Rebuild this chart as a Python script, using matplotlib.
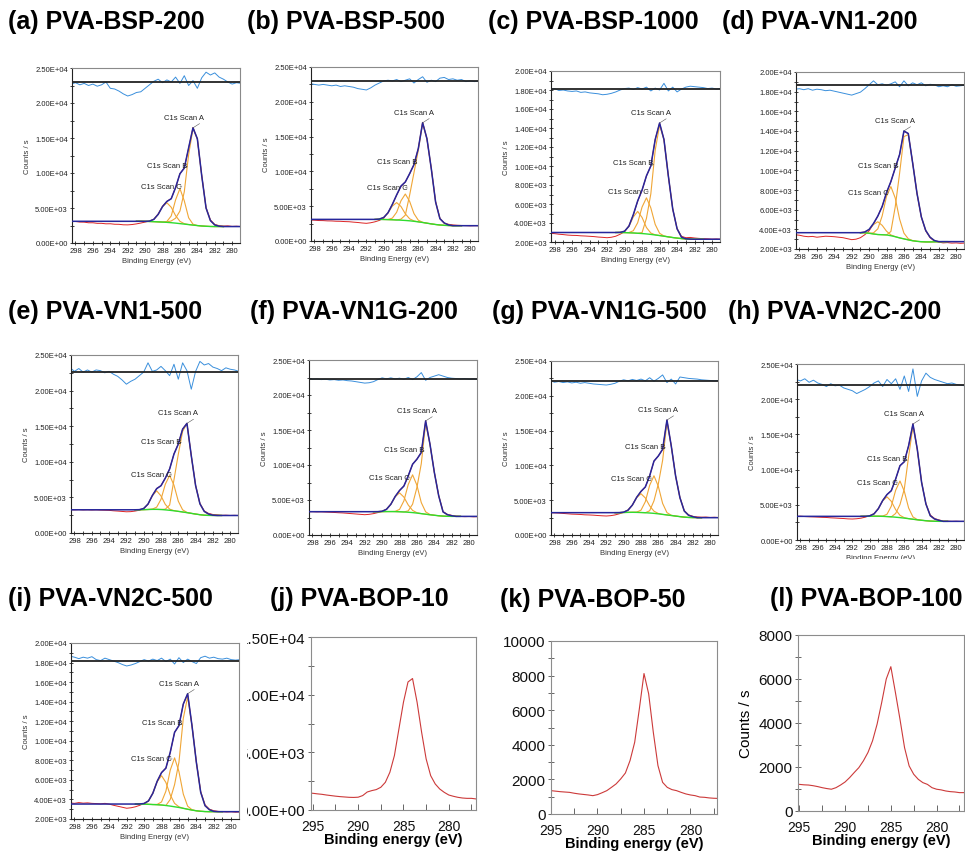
import numpy as np
import matplotlib.pyplot as plt
from matplotlib.ticker import MultipleLocator, FuncFormatter
from matplotlib.transforms import Bbox

plt.rcParams['font.family'] = ['Liberation Sans', 'DejaVu Sans']

W, H = 965, 854

# binding energy grids (eV)
E_full = np.arange(299.0, 278.4, -0.5)   # whole C1s scan, 299 .. 278.5
E_fit = np.arange(291.0, 280.9, -0.5)    # fitting window, 291 .. 281
E_bop = np.arange(295.5, 276.9, -0.5)    # BOP survey, 295.5 .. 277

# ---- (a) PVA-BSP-200 ----
a_bg = [3100, 3100, 3090, 3070, 3050, 3020, 2990, 2950, 2900, 2840, 2770, 2700, 2630, 2560, 2490, 2430, 2390, 2360, 2350, 2350, 2350]
a_A = [0, 0, 0, 0, 0, 0, 0, 60, 250, 700, 1800, 4620, 10000, 13770, 12400, 7210, 2610, 840, 230, 50, 0]
a_B = [0, 0, 0, 0, 0, 0, 7, 125, 970, 3320, 5000, 3320, 970, 125, 7, 0, 0, 0, 0, 0, 0]
a_C = [0, 0, 7, 60, 325, 1072, 2204, 2800, 2204, 1072, 325, 60, 7, 0, 0, 0, 0, 0, 0, 0, 0]
a_raw = [3100, 3060, 3070, 2990, 2980, 2890, 2890, 2810, 2810, 2740, 2750, 2680, 2670, 2600, 2590, 2640, 2730, 2850, 2990, 3120,
         3400, 4150, 5250, 5950, 6350, 7900, 9900, 10750, 13550, 16500, 14850, 9700, 5050, 3300, 2650, 2480, 2420, 2450, 2370, 2400, 2350, 2360]
a_res = [22800, 22700, 22900, 22600, 22800, 22500, 22700, 22400, 22600, 23000, 22100, 22000, 21700, 21300, 21000, 21200, 21500, 21600, 22100, 22600,
         23100, 23400, 22900, 23300, 23000, 23700, 22800, 23900, 22500, 23200, 22100, 23600, 24400, 24000, 24300, 23700, 23400, 23000, 22700, 22900, 22800, 22900]

# ---- (b) PVA-BSP-500 ----
b_bg = [3100, 3100, 3090, 3070, 3050, 3020, 2990, 2950, 2900, 2830, 2750, 2660, 2560, 2460, 2370, 2300, 2250, 2220, 2200, 2200, 2200]
b_A = [0, 0, 0, 0, 0, 0, 150, 770, 3700, 6980, 10280, 14300, 12140, 7940, 3230, 900, 340, 80, 0, 0, 0]
b_B = [0, 0, 0, 27, 238, 1110, 2793, 3800, 2793, 1110, 238, 27, 0, 0, 0, 0, 0, 0, 0, 0, 0]
b_C = [6, 54, 290, 958, 1968, 2500, 1968, 958, 290, 54, 6, 0, 0, 0, 0, 0, 0, 0, 0, 0, 0]
b_raw = [3050, 3010, 2990, 2940, 2930, 2890, 2880, 2840, 2830, 2790, 2770, 2710, 2660, 2590, 2540, 2620, 2760, 2960, 3280, 4080,
         5250, 6600, 7850, 8500, 9650, 11000, 13300, 17050, 14650, 10450, 5650, 3280, 2550, 2400, 2310, 2260, 2230, 2210, 2180, 2200, 2190, 2200]
b_res = [22700, 22600, 22500, 22400, 22500, 22400, 22300, 22400, 22200, 22300, 22200, 22100, 21900, 21800, 21700, 22000, 22400, 22700, 23000, 23100,
         23000, 23200, 22900, 23100, 23300, 22700, 23200, 23600, 22800, 23100, 22900, 23400, 23500, 23200, 23300, 23100, 23200, 22900, 23000, 22900, 23000, 22900]

# ---- (c) PVA-BSP-1000 ----
c_bg = [3000, 3000, 2990, 2970, 2950, 2920, 2890, 2850, 2800, 2740, 2680, 2610, 2540, 2470, 2410, 2360, 2320, 2300, 2290, 2290, 2290]
c_A = [0, 0, 0, 0, 0, 0, 100, 1640, 4270, 8920, 11610, 10150, 6420, 3010, 980, 150, 20, 0, 0, 0, 0]
c_B = [0, 0, 0, 27, 237, 1110, 2790, 3800, 2790, 1110, 237, 27, 0, 0, 0, 0, 0, 0, 0, 0, 0]
c_C = [0, 17, 144, 672, 1690, 2300, 1690, 672, 144, 17, 0, 0, 0, 0, 0, 0, 0, 0, 0, 0, 0]
c_raw = [2950, 2910, 2880, 2820, 2780, 2730, 2700, 2690, 2650, 2630, 2600, 2570, 2520, 2490, 2450, 2500, 2610, 2820, 3080, 3700,
         4850, 6300, 7450, 8950, 10000, 12800, 14500, 12800, 8950, 5500, 3400, 2600, 2450, 2480, 2420, 2380, 2350, 2330, 2300, 2320, 2290, 2300]
c_res = [18150, 18000, 18150, 17950, 18000, 17900, 17850, 17900, 17750, 17800, 17700, 17650, 17600, 17500, 17550, 17650, 17800, 18000, 18150, 18200,
         18050, 18250, 18100, 18300, 17900, 18200, 18000, 18700, 17900, 18300, 17800, 18100, 18300, 18400, 18350, 18300, 18250, 18150, 18200, 18100, 18150, 18100]

# ---- (d) PVA-VN1-200 ----
d_bg = [3650, 3650, 3600, 3530, 3470, 3450, 3430, 3350, 3250, 3130, 3030, 2930, 2840, 2780, 2740, 2720, 2720, 2730, 2740, 2750, 2750]
d_A = [0, 0, 0, 0, 0, 0, 0, 430, 3040, 6560, 10400, 10700, 7900, 4880, 2520, 1170, 480, 130, 10, 0, 0]
d_B = [0, 0, 13, 108, 580, 1915, 3935, 5000, 3935, 1915, 580, 108, 13, 0, 0, 0, 0, 0, 0, 0, 0]
d_C = [9, 81, 380, 955, 1300, 955, 380, 81, 9, 0, 0, 0, 0, 0, 0, 0, 0, 0, 0, 0, 0]
d_raw = [3500, 3450, 3400, 3300, 3250, 3280, 3200, 3250, 3300, 3280, 3250, 3200, 3150, 3050, 2950, 3000, 3150, 3450, 3850, 4550,
         5350, 6350, 7700, 8850, 10250, 11600, 13950, 13750, 10800, 7650, 5250, 3850, 3150, 2800, 2700, 2620, 2650, 2600, 2620, 2580, 2600, 2620]
d_res = [18350, 18250, 18300, 18200, 18300, 18150, 18250, 18200, 18100, 18150, 18050, 17950, 17850, 17750, 17650, 17800, 17950, 18300, 18700, 19100,
         18700, 18800, 18650, 18800, 19000, 18500, 19100, 18600, 18900, 18700, 18900, 18600, 18750, 18700, 18500, 18600, 18500, 18700, 18550, 18600, 18650, 18600]

# ---- (e) PVA-VN1-500 ----
e_bg = [3260, 3260, 3280, 3300, 3320, 3320, 3300, 3250, 3190, 3120, 3040, 2950, 2860, 2760, 2660, 2570, 2500, 2470, 2460, 2460, 2460]
e_A = [0, 0, 0, 0, 0, 0, 0, 100, 740, 4350, 8020, 11330, 12500, 8100, 4000, 1530, 530, 190, 40, 0, 0]
e_B = [0, 0, 0, 0, 35, 306, 1430, 3600, 4900, 3600, 1430, 306, 35, 0, 0, 0, 0, 0, 0, 0, 0]
e_C = [0, 19, 163, 760, 1910, 2600, 1910, 760, 163, 19, 0, 0, 0, 0, 0, 0, 0, 0, 0, 0, 0]
e_raw = [3300, 3270, 3250, 3280, 3240, 3260, 3230, 3250, 3220, 3200, 3180, 3120, 3080, 3030, 2980, 3000, 3080, 3200, 3400, 4050,
         5250, 6250, 6650, 7700, 9000, 11100, 12500, 14600, 15400, 10850, 6700, 4150, 3100, 2750, 2600, 2550, 2480, 2500, 2460, 2480, 2450, 2460]
e_res = [22800, 23200, 22700, 23100, 22600, 22900, 22600, 22900, 22800, 22500, 22700, 22300, 22000, 21500, 20900, 21300, 21600, 22100, 22600, 23900,
         22700, 22900, 23400, 22800, 22100, 23700, 21600, 23900, 22800, 20200, 22700, 24100, 23600, 23800, 23300, 23100, 22800, 23200, 23000, 22900, 22700, 22800]

# ---- (f) PVA-VN1G-200 ----
f_bg = [3330, 3330, 3340, 3350, 3350, 3340, 3320, 3290, 3250, 3200, 3130, 3050, 2970, 2890, 2820, 2750, 2700, 2670, 2660, 2660, 2660]
f_A = [0, 0, 0, 0, 0, 0, 0, 0, 200, 1200, 3670, 7150, 12990, 10040, 6110, 2850, 600, 230, 90, 0, 0]
f_B = [0, 0, 0, 0, 0, 39, 338, 1577, 3970, 5400, 3970, 1577, 338, 39, 0, 0, 0, 0, 0, 0, 0]
f_C = [0, 7, 58, 313, 1034, 2125, 2700, 2125, 1034, 313, 58, 7, 0, 0, 0, 0, 0, 0, 0, 0, 0]
f_raw = [3350, 3320, 3330, 3300, 3310, 3280, 3250, 3220, 3180, 3150, 3100, 3050, 3000, 2950, 2900, 2950, 3050, 3200, 3350, 3700,
         4400, 5500, 6350, 7000, 8450, 10100, 10850, 11800, 16300, 12950, 8950, 5650, 3350, 2950, 2800, 2700, 2650, 2620, 2640, 2600, 2620, 2600]
f_res = [22300, 22350, 22250, 22300, 22200, 22250, 22150, 22200, 22100, 22150, 22050, 22000, 21900, 21800, 21700, 21750, 21900, 22200, 22450, 22300,
         22450, 22300, 22400, 22250, 22500, 22200, 22600, 23200, 22100, 22500, 22700, 22900, 22700, 22500, 22400, 22350, 22300, 22350, 22250, 22300, 22250, 22300]

# ---- (g) PVA-VN1G-500 ----
g_bg = [3210, 3210, 3230, 3250, 3260, 3250, 3230, 3200, 3160, 3110, 3040, 2960, 2880, 2800, 2720, 2640, 2570, 2520, 2500, 2490, 2490]
g_A = [0, 0, 0, 0, 0, 0, 0, 0, 320, 1800, 4280, 7770, 13300, 9950, 5760, 2720, 880, 310, 130, 0, 0]
g_B = [0, 0, 0, 0, 0, 39, 338, 1577, 3970, 5400, 3970, 1577, 338, 39, 0, 0, 0, 0, 0, 0, 0]
g_C = [0, 7, 58, 313, 1034, 2125, 2700, 2125, 1034, 313, 58, 7, 0, 0, 0, 0, 0, 0, 0, 0, 0]
g_raw = [3230, 3200, 3180, 3150, 3100, 3050, 3000, 2980, 2950, 2900, 2880, 2850, 2800, 2760, 2730, 2780, 2880, 3050, 3250, 3600,
         4300, 5400, 6250, 6900, 8500, 10600, 11350, 12300, 16500, 12800, 8500, 5400, 3500, 2900, 2680, 2600, 2560, 2580, 2520, 2550, 2500, 2520]
g_res = [22100, 22200, 21950, 22050, 21900, 22000, 21850, 21950, 21800, 21900, 21800, 21700, 21650, 21600, 21550, 21650, 21800, 22100, 22300, 22150,
         22350, 22200, 22400, 22150, 22600, 22100, 22500, 23000, 21900, 22400, 21700, 22700, 22600, 22500, 22450, 22400, 22300, 22250, 22200, 22150, 22200, 22100]

# ---- (h) PVA-VN2C-200 ----
h_bg = [3360, 3360, 3370, 3380, 3380, 3360, 3330, 3290, 3240, 3180, 3110, 3030, 2950, 2870, 2800, 2740, 2690, 2660, 2650, 2650, 2650]
h_A = [0, 0, 0, 0, 0, 0, 0, 0, 530, 1850, 4130, 8840, 13200, 10000, 5380, 2370, 760, 320, 140, 0, 0]
h_B = [0, 0, 0, 0, 0, 37, 325, 1518, 3822, 5200, 3822, 1518, 325, 37, 0, 0, 0, 0, 0, 0, 0]
h_C = [0, 7, 60, 325, 1072, 2204, 2800, 2204, 1072, 325, 60, 7, 0, 0, 0, 0, 0, 0, 0, 0, 0]
h_raw = [3400, 3350, 3380, 3330, 3300, 3280, 3250, 3220, 3200, 3150, 3120, 3080, 3050, 3000, 2980, 3020, 3100, 3250, 3450, 3750,
         4450, 5600, 6450, 7000, 8650, 10550, 11100, 13400, 16500, 12900, 8200, 5150, 3550, 3050, 2850, 2700, 2680, 2650, 2670, 2640, 2650, 2660]
h_res = [22500, 22800, 22600, 22900, 22400, 22700, 22300, 22100, 21800, 22200, 21900, 22000, 21600, 21400, 21200, 20800, 21100, 21400, 21800, 22300,
         22600, 21800, 22800, 22200, 22900, 21400, 23300, 21100, 24300, 20400, 22600, 23700, 23100, 22800, 22600, 22400, 22200, 22300, 22100, 22000, 21900, 22000]

# ---- (i) PVA-VN2C-500 ----
i_bg = [3530, 3530, 3520, 3500, 3480, 3460, 3430, 3380, 3320, 3250, 3180, 3090, 3000, 2910, 2840, 2790, 2760, 2750, 2750, 2750, 2750]
i_A = [0, 0, 0, 0, 0, 0, 0, 0, 680, 2270, 4630, 9200, 11500, 8600, 4960, 1940, 600, 200, 30, 0, 0]
i_B = [0, 0, 0, 0, 0, 36, 313, 1460, 3675, 5000, 3675, 1460, 313, 36, 0, 0, 0, 0, 0, 0, 0]
i_C = [0, 8, 65, 348, 1149, 2361, 3000, 2361, 1149, 348, 65, 8, 0, 0, 0, 0, 0, 0, 0, 0, 0]
i_raw = [3600, 3650, 3600, 3680, 3620, 3650, 3600, 3580, 3550, 3600, 3520, 3400, 3300, 3200, 3100, 3150, 3250, 3400, 3600, 3850,
         4650, 5850, 6750, 7200, 8800, 10850, 11550, 13750, 14800, 11550, 7850, 4800, 3450, 3000, 2850, 2780, 2750, 2720, 2740, 2700, 2720, 2700]
i_res = [18500, 18650, 18550, 18400, 18550, 18450, 18600, 18300, 18200, 18450, 18300, 18150, 18000, 17800, 17650, 17750, 17900, 18100, 18300, 18150,
         18350, 18200, 18450, 18100, 18350, 17850, 18500, 18000, 18350, 18100, 17900, 18500, 18650, 18450, 18550, 18400, 18350, 18450, 18300, 18250, 18300, 18250]

# ---- (j)-(l) PVA-BOP surveys ----
j_counts = [1480, 1450, 1400, 1360, 1300, 1250, 1200, 1160, 1130, 1100, 1090, 1110, 1250, 1560, 1680, 1770, 1970, 2400, 3270, 4720,
            7040, 9350, 11100, 11400, 9350, 6750, 4430, 2980, 2260, 1820, 1530, 1300, 1190, 1100, 1040, 1010, 1010, 960]
k_counts = [1380, 1350, 1320, 1290, 1270, 1250, 1200, 1160, 1130, 1100, 1060, 1120, 1230, 1350, 1540, 1740, 2030, 2370, 3090, 4150,
            6080, 8120, 6950, 4730, 2800, 1830, 1540, 1410, 1350, 1250, 1160, 1100, 1060, 980, 965, 930, 910, 900]
l_counts = [1220, 1210, 1190, 1180, 1150, 1110, 1060, 1020, 990, 1060, 1180, 1320, 1520, 1750, 1970, 2280, 2660, 3190, 3950, 4930,
            6000, 6560, 5390, 4170, 2880, 2050, 1670, 1440, 1290, 1210, 1060, 990, 960, 910, 880, 865, 835, 835]

RED = '#dd2424'
NAVY = '#27279c'
ORANGE = '#f0a636'
GREEN = '#2fdc2f'
SKY = '#3a8fdc'

fig = plt.figure(figsize=(W / 100, H / 100), dpi=100)


def add_axes(box):
    l, t, r, b = box
    return fig.add_axes([l / W, 1 - b / H, (r - l) / W, (b - t) / H])


def clip_text(txt, x0, y0, x1, y1):
    # clip rectangle given in pixels from the top-left corner
    txt.set_clip_box(Bbox([[x0, H - y1], [x1, H - y0]]))
    txt.set_clip_on(True)


def sci(v, pos):
    return f'{v:.2E}'


def draw_xps(ax, bg, A, B, C, raw, res, zero, ylim, step, eB, eC, ylabel=True):
    bg, A, B, C = (np.array(v, float) for v in (bg, A, B, C))
    env = bg + A + B + C
    env_full = np.concatenate([np.full(16, env[0]), env, np.full(5, env[-1])])

    ax.plot(E_full, raw, color=RED, lw=0.7, zorder=2)
    for comp in (A, B, C):
        ax.plot(E_fit, bg + comp, color=ORANGE, lw=0.8, zorder=3)
    ax.plot(E_fit, bg, color=GREEN, lw=1.0, zorder=4)
    ax.plot(E_full, env_full, color=NAVY, lw=1.1, zorder=5)
    ax.plot(E_full, res, color=SKY, lw=0.7, zorder=2)
    ax.axhline(zero, color='#222222', lw=1.3, zorder=3)

    # peak labels
    arrow = dict(arrowstyle='-', color='#555555', lw=0.4, shrinkA=0, shrinkB=0)
    iA = int(np.argmax(env))
    ax.annotate('C1s Scan A', xy=(E_fit[iA], env[iA]), xytext=(11, 7), textcoords='offset pixels',
                ha='right', va='bottom', fontsize=5.5, color='#222222', zorder=6,
                arrowprops=dict(arrow, relpos=(1, 0)))
    iB = int(np.argmin(abs(E_fit - eB)))
    ax.annotate('C1s Scan B', xy=(E_fit[iB], env[iB]), xytext=(3, 3), textcoords='offset pixels',
                ha='right', va='center', fontsize=5.5, color='#222222', zorder=6,
                arrowprops=dict(arrow, relpos=(1, 0.3)))
    iC = int(np.argmin(abs(E_fit - eC)))
    ax.annotate('C1s Scan C', xy=(E_fit[iC], bg[iC] + B[iC] + C[iC]), xytext=(2, 0), textcoords='offset pixels',
                ha='right', va='center', fontsize=5.5, color='#222222', zorder=6,
                arrowprops=dict(arrow, relpos=(1, 0.5)))

    ax.set_xlim(298.4, 279.1)
    ax.set_ylim(*ylim)
    ax.xaxis.set_major_locator(MultipleLocator(2))
    ax.xaxis.set_minor_locator(MultipleLocator(1))
    ax.yaxis.set_major_locator(MultipleLocator(step))
    ax.yaxis.set_minor_locator(MultipleLocator(step / 2))
    ax.yaxis.set_major_formatter(FuncFormatter(sci))
    ax.tick_params(which='both', direction='inout', length=3, width=0.6, labelsize=5.5, pad=1.5,
                   colors='#222222')
    for side in ('left', 'bottom'):
        ax.spines[side].set_color('#222222')
        ax.spines[side].set_linewidth(0.8)
    for side in ('top', 'right'):
        ax.spines[side].set_color('#8a8a8a')
        ax.spines[side].set_linewidth(0.8)
    ax.set_xlabel('Binding Energy (eV)', fontsize=5.5, labelpad=2, color='#333333')
    if ylabel:
        ax.set_ylabel('Counts / s', fontsize=5.5, labelpad=3, color='#333333')


def draw_bop(ax, counts, ylim, step, xlim, fmt=None, ylabel=False):
    ax.plot(E_bop, counts, color='#cc3a3a', lw=0.8)
    ax.set_xlim(*xlim)
    ax.set_ylim(*ylim)
    ax.xaxis.set_major_locator(MultipleLocator(5))
    ax.xaxis.set_minor_locator(MultipleLocator(2.5))
    ax.yaxis.set_major_locator(MultipleLocator(step))
    ax.yaxis.set_minor_locator(MultipleLocator(step / 2))
    if fmt is not None:
        ax.yaxis.set_major_formatter(FuncFormatter(fmt))
    ax.tick_params(axis='x', which='both', direction='in', length=4, width=0.7, colors='#666666',
                   labelcolor='#111111', labelsize=10, pad=6.5)
    ax.tick_params(axis='y', which='both', direction='inout', length=4, width=0.7, colors='#666666',
                   labelcolor='#111111', labelsize=11, pad=2)
    for s in ax.spines.values():
        s.set_color('#8c8c8c')
        s.set_linewidth(0.8)
    ax.set_xlabel('Binding energy (eV)', fontsize=10.5, fontweight='bold', labelpad=-1)
    if ylabel:
        ax.set_ylabel('Counts / s', fontsize=11, labelpad=4)


xps_panels = [
    ('(a) PVA-BSP-200', (8, 22), (72, 69, 240, 244), a_bg, a_A, a_B, a_C, a_raw, a_res, 23000, (0, 25000), 5000, 285.5, 286.0, True),
    ('(b) PVA-BSP-500', (247, 22), (311, 68, 478, 242), b_bg, b_A, b_B, b_C, b_raw, b_res, 23000, (0, 25000), 5000, 286.5, 287.5, True),
    ('(c) PVA-BSP-1000', (488, 22), (551, 72, 720, 243), c_bg, c_A, c_B, c_C, c_raw, c_res, 18100, (2000, 20000), 2000, 287.0, 287.5, True),
    ('(d) PVA-VN1-200', (722, 22), (796, 73, 964, 250), d_bg, d_A, d_B, d_C, d_raw, d_res, 18700, (2000, 20000), 2000, 287.0, 288.0, False),
    ('(e) PVA-VN1-500', (8, 312), (71, 356, 238, 534), e_bg, e_A, e_B, e_C, e_raw, e_res, 22650, (0, 25000), 5000, 286.0, 287.0, True),
    ('(f) PVA-VN1G-200', (250, 312), (309, 361, 477, 536), f_bg, f_A, f_B, f_C, f_raw, f_res, 22330, (0, 25000), 5000, 285.5, 287.0, True),
    ('(g) PVA-VN1G-500', (492, 312), (551, 362, 718, 536), g_bg, g_A, g_B, g_C, g_raw, g_res, 22130, (0, 25000), 5000, 285.5, 287.0, True),
    ('(h) PVA-VN2C-200', (728, 312), (797, 365, 964, 541), h_bg, h_A, h_B, h_C, h_raw, h_res, 22040, (0, 25000), 5000, 286.0, 287.0, True),
    ('(i) PVA-VN2C-500', (8, 599), (71, 644, 239, 820), i_bg, i_A, i_B, i_C, i_raw, i_res, 18200, (2000, 20000), 2000, 286.0, 287.0, True),
]

for k, (title, txy, box, bg, A, B, C, raw, res, zero, ylim, step, eB, eC, ylab) in enumerate(xps_panels):
    ax = add_axes(box)
    draw_xps(ax, bg, A, B, C, raw, res, zero, ylim, step, eB, eC, ylabel=ylab)
    fig.text(txy[0] / W, 1 - txy[1] / H, title, fontsize=18, fontweight='bold', va='center', ha='left')
    if 4 <= k <= 7:
        # second-row panels are cut just below their tick labels
        clip_text(ax.xaxis.label, 0, 0, W, 560)

ax_j = add_axes((311, 638, 476, 811))
draw_bop(ax_j, j_counts, (0, 15000), 5000, (295.2, 277.0), fmt=sci)
for t in ax_j.yaxis.get_major_ticks():
    clip_text(t.label1, 247, 0, W, H)
fig.text(270 / W, 1 - 599 / H, '(j) PVA-BOP-10', fontsize=18, fontweight='bold', va='center', ha='left')

ax_k = add_axes((551, 642, 717, 815))
draw_bop(ax_k, k_counts, (0, 10000), 2000, (295.0, 277.15))
fig.text(500 / W, 1 - 600 / H, '(k) PVA-BOP-50', fontsize=18, fontweight='bold', va='center', ha='left')

ax_l = add_axes((798, 636, 964, 812))
draw_bop(ax_l, l_counts, (0, 8000), 2000, (295.15, 277.0), ylabel=True)
fig.text(770 / W, 1 - 599 / H, '(l) PVA-BOP-100', fontsize=18, fontweight='bold', va='center', ha='left')

fig.savefig('out.png', dpi=100)
